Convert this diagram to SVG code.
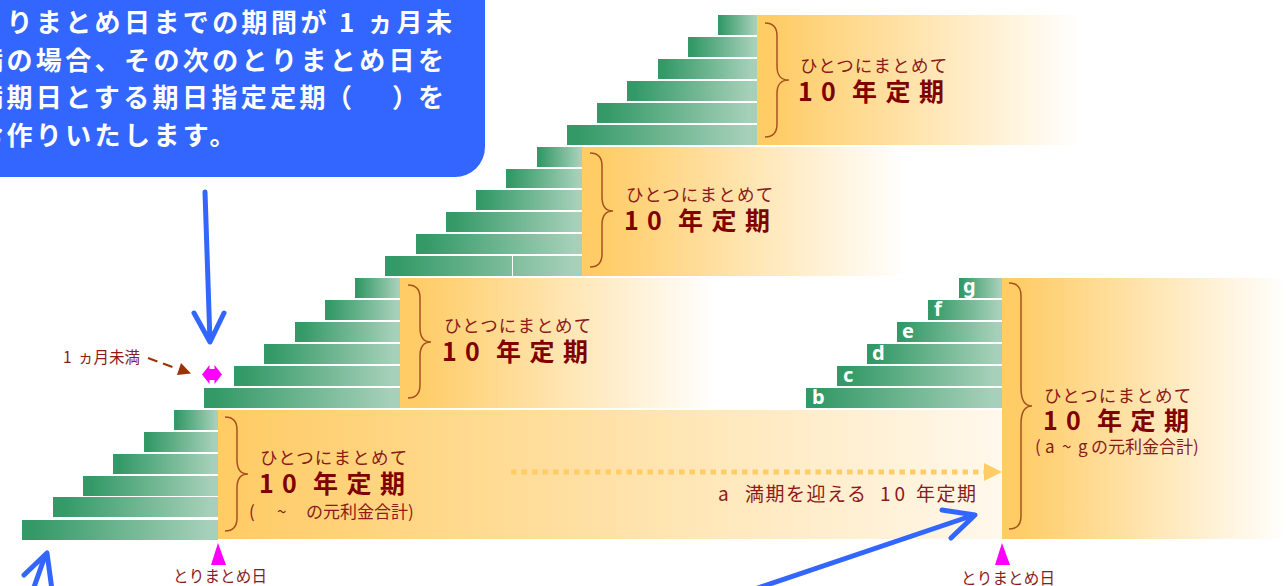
<svg xmlns="http://www.w3.org/2000/svg" width="1286" height="586" viewBox="0 0 1286 586">
<style>
text{font-family:"Noto Sans CJK JP","Noto Sans",sans-serif}
.bar{fill:url(#barG)}
.br{fill:none;stroke:#A8521F;stroke-width:1.5}
.t1{font-size:17.5px;letter-spacing:1.2px;fill:#8B1A1A}
.t2{font-size:25px;font-weight:700;fill:#800000}
.t3{font-size:17px;fill:#8B1A1A}
.t4{font-size:15.5px;fill:#8B1A1A}
.lb{font-size:20px;font-weight:700;fill:#fff;font-family:"Noto Sans",sans-serif}
.bl{font-size:26px;font-weight:700;letter-spacing:3.4px;fill:#fff}
.ba{fill:none;stroke:#3366FF;stroke-width:5;stroke-linecap:round;stroke-linejoin:round}
.tri{fill:#FF00FF}
</style>
<defs>
<linearGradient id="barG"><stop offset="0.05" stop-color="#339966"/><stop offset="0.95" stop-color="#A6D0B9"/></linearGradient>
<linearGradient id="orG"><stop offset="0.05" stop-color="#FFCC66"/><stop offset="1" stop-color="#FFCC66" stop-opacity="0"/></linearGradient>
<linearGradient id="orA"><stop offset="0.02" stop-color="#FFCC66"/><stop offset="1" stop-color="#FFF8EC"/></linearGradient>
</defs>
<g id="stack-d">
<rect x="757" y="15" width="323" height="130" fill="url(#orG)"/>
<rect class="bar" x="718" y="15" width="39" height="20"/><rect class="bar" x="688" y="37" width="69" height="20"/><rect class="bar" x="658" y="59" width="99" height="20"/><rect class="bar" x="627" y="81" width="130" height="20"/><rect class="bar" x="597" y="103" width="160" height="20"/><rect class="bar" x="567" y="125" width="190" height="20"/>
<path class="br" d="M765 23C773 23 777 27 777 36V66C777 75 780 80 789 80C780 80 777 85 777 94V124C777 133 773 137 765 137"/>
<text class="t1" x="800" y="72">ひとつにまとめて</text><text class="t2" x="798 821 845 852 885.5 919" y="101">10 年定期</text>
</g>
<g id="stack-c">
<rect x="582" y="147" width="323" height="129" fill="url(#orG)"/>
<rect class="bar" x="537" y="147" width="45" height="20"/><rect class="bar" x="506" y="169" width="76" height="19"/><rect class="bar" x="476" y="190" width="106" height="20"/><rect class="bar" x="446" y="212" width="136" height="20"/><rect class="bar" x="416" y="234" width="166" height="20"/><rect class="bar" x="385" y="256" width="197" height="20"/>
<rect x="512" y="256" width="1" height="20" fill="#fff"/>
<path class="br" d="M590 153C598 153 602 157 602 166V197C602 206 605 211 613 211C605 211 602 216 602 225V254C602 263 598 267 590 267"/>
<text class="t1" x="626" y="201">ひとつにまとめて</text><text class="t2" x="624 647 671 678 711.5 745" y="230">10 年定期</text>
</g>
<g id="stack-b">
<rect x="400" y="278" width="315" height="130" fill="url(#orG)"/>
<rect class="bar" x="355" y="278" width="45" height="20"/><rect class="bar" x="325" y="300" width="75" height="20"/><rect class="bar" x="295" y="322" width="105" height="20"/><rect class="bar" x="264" y="344" width="136" height="20"/><rect class="bar" x="234" y="366" width="166" height="20"/><rect class="bar" x="204" y="388" width="196" height="20"/>
<path class="br" d="M408 285C416 285 420 289 420 298V328C420 337 423 342 431 342C423 342 420 347 420 356V385C420 394 416 398 408 398"/>
<text class="t1" x="444" y="332">ひとつにまとめて</text><text class="t2" x="442 465 489 496 529.5 563" y="361">10 年定期</text>
</g>
<g id="stack-a">
<rect x="218" y="410" width="784" height="129" fill="url(#orA)"/>
<rect class="bar" x="174" y="410" width="44" height="20"/><rect class="bar" x="144" y="432" width="74" height="20"/><rect class="bar" x="113" y="454" width="105" height="20"/><rect class="bar" x="83" y="476" width="135" height="20"/><rect class="bar" x="53" y="497" width="165" height="20"/><rect class="bar" x="22" y="520" width="196" height="20"/>
<path class="br" d="M225 417C233 417 237 421 237 430V460C237 469 240 474 248 474C240 474 237 479 237 488V518C237 527 233 531 225 531"/>
<text class="t1" x="260" y="464">ひとつにまとめて</text><text class="t2" x="259 282 306 313 346.5 380" y="493">10 年定期</text>
<text class="t3" y="518"><tspan x="249">(</tspan><tspan x="277">~</tspan><tspan x="306">の元利金合計)</tspan></text>
</g>
<g id="stack-e">
<rect x="1002" y="278" width="284" height="261" fill="url(#orG)"/>
<rect class="bar" x="959" y="278" width="43" height="20"/><rect class="bar" x="928" y="300" width="74" height="20"/><rect class="bar" x="897" y="322" width="105" height="20"/><rect class="bar" x="867" y="344" width="135" height="20"/><rect class="bar" x="837" y="366" width="165" height="20"/><rect class="bar" x="806" y="388" width="196" height="20"/>
<text class="lb" x="963" y="293">g</text><text class="lb" x="934" y="316">f</text><text class="lb" x="902" y="338">e</text><text class="lb" x="872" y="360">d</text><text class="lb" x="843" y="382">c</text><text class="lb" x="812" y="404">b</text>
<path class="br" d="M1009 283C1017 283 1021 287 1021 296V388C1021 400 1024 406 1032 406C1024 406 1021 412 1021 424V516C1021 525 1017 529 1009 529"/>
<text class="t1" x="1044" y="402">ひとつにまとめて</text><text class="t2" x="1043 1066 1090 1097 1130.5 1164" y="430">10 年定期</text>
<text class="t3" y="453"><tspan x="1035">(</tspan><tspan x="1045">a</tspan><tspan x="1062">~</tspan><tspan x="1078">g</tspan><tspan x="1091">の元利金合計)</tspan></text>
</g>
<g id="note">
<rect x="-30" y="-30" width="515" height="207" rx="30" fill="#3366FF"/>
<text class="bl" x="-23" y="32">とりまとめ日までの期間が 1 ヵ月未</text>
<text class="bl" x="-23" y="70">満の場合、その次のとりまとめ日を</text>
<text class="bl" y="107"><tspan x="-23">満期日とする期日指定定期</tspan><tspan x="326">（</tspan><tspan x="392">）</tspan><tspan x="418">を</tspan></text>
<text class="bl" x="-23" y="145">お作りいたします。</text>
</g>
<g id="labels">
<text class="t4" x="173" y="582" letter-spacing="0.2">とりまとめ日</text>
<text class="t4" x="961" y="584" letter-spacing="0.2">とりまとめ日</text>
<text y="363" font-size="15.5" fill="#8B1A1A"><tspan x="63">1</tspan><tspan x="78">ヵ月未満</tspan></text>
<text y="501" font-size="19" letter-spacing="1.5" fill="#8B1A1A"><tspan x="718">a</tspan><tspan x="745">満期を迎える</tspan><tspan x="880" letter-spacing="4">10</tspan><tspan x="916">年定期</tspan></text>
</g>
<g id="connectors">
<polygon class="tri" points="218,543 226,565 211,565"/>
<polygon class="tri" points="1002,543 1010,565 995,565"/>
<polygon class="tri" points="202,374.5 209.5,365 209.5,369 214.5,369 214.5,365 222,374.5 214.5,384 214.5,380 209.5,380 209.5,384"/>
<path d="M148 358L178 369" fill="none" stroke="#993300" stroke-width="2" stroke-dasharray="10 6"/>
<polygon points="191,373.5 177,375 181,363" fill="#993300"/>
<path d="M511 472H984" fill="none" stroke="#FFCC66" stroke-width="5" stroke-dasharray="5.5 5"/>
<polygon points="984,463 1002,472 984,481" fill="#FFCC66"/>
<path class="ba" d="M205 192L210 342M194 313L210 342L224 313"/>
<path class="ba" d="M752 590L974 515M942 510L975 515L951 538"/>
<path class="ba" d="M24 575L47 553L52 590M45 556L33 590"/>
</g>
</svg>
